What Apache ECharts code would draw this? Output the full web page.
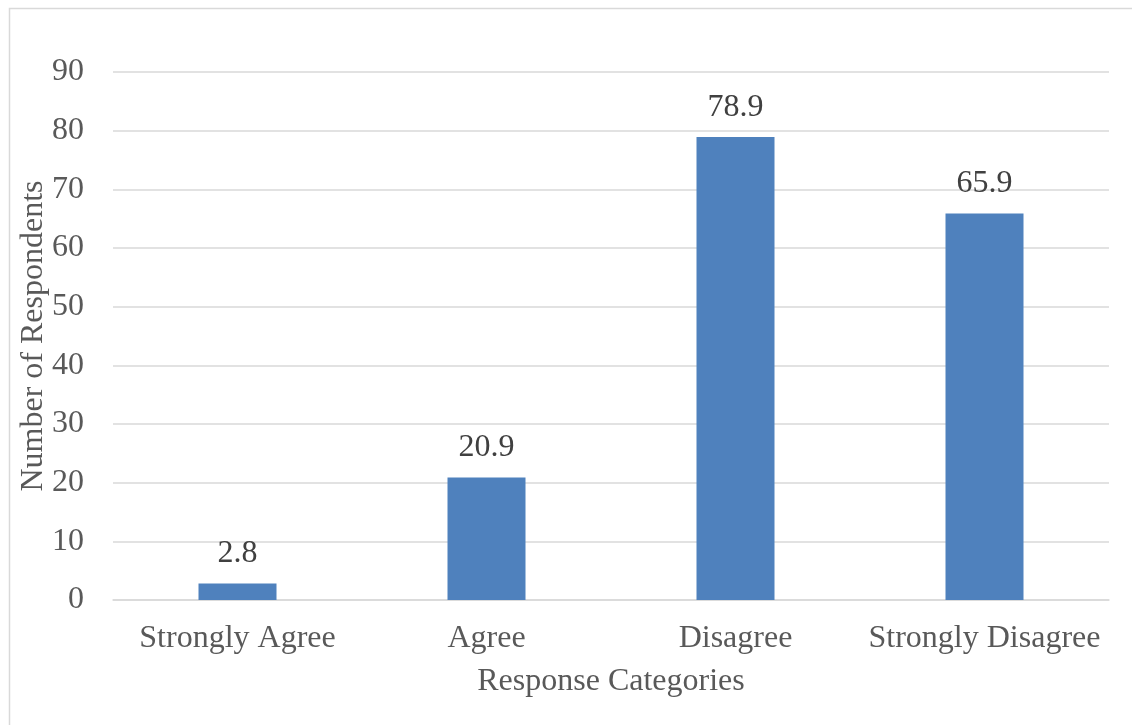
<!DOCTYPE html>
<html>
<head>
<meta charset="utf-8">
<script src="https://cdn.jsdelivr.net/npm/echarts@6/dist/echarts.min.js"></script>
<style>
  html, body { margin: 0; padding: 0; background: #fff; }
  #chart { width: 1132px; height: 725px; }
</style>
</head>
<body>
<div id="chart"></div>
<script>
const categories = ['Strongly Agree', 'Agree', 'Disagree', 'Strongly Disagree']
const respondents = [2.8, 20.9, 78.9, 65.9]

const font = '"Liberation Serif", "Times New Roman", serif'

const chart = echarts.init(document.getElementById('chart'))

chart.setOption({
  animation: false,
  backgroundColor: '#fff',
  graphic: [
    {
      type: 'rect',
      left: 7,
      top: 6,
      shape: { width: 1300, height: 900 },
      style: { fill: 'none', stroke: '#d9d9d9', lineWidth: 1.5 },
      silent: true,
    },
  ],
  grid: {
    left: 113,
    right: 23,
    top: 72,
    bottom: 125,
  },
  xAxis: {
    type: 'category',
    data: categories,
    name: 'Response Categories',
    nameLocation: 'middle',
    nameGap: 66,
    nameMoveOverlap: false,
    nameTextStyle: { fontFamily: font, fontSize: 32, color: '#595959' },
    axisLine: { lineStyle: { color: '#d9d9d9', width: 1.5 } },
    axisTick: { show: false },
    axisLabel: { interval: 0, fontFamily: font, fontSize: 32, color: '#595959', margin: 23 },
  },
  yAxis: {
    type: 'value',
    min: 0,
    max: 90,
    interval: 10,
    name: 'Number of Respondents',
    nameLocation: 'middle',
    nameGap: 63,
    nameMoveOverlap: false,
    nameTextStyle: { fontFamily: font, fontSize: 32, color: '#595959' },
    axisLine: { show: false },
    axisTick: { show: false },
    splitLine: { lineStyle: { color: '#d9d9d9', width: 1.5 } },
    axisLabel: { fontFamily: font, fontSize: 32, color: '#595959', margin: 29 },
  },
  series: [
    {
      type: 'bar',
      data: respondents,
      barWidth: 78,
      itemStyle: { color: '#4f81bd' },
      label: {
        show: true,
        position: 'top',
        distance: 14,
        fontFamily: font,
        fontSize: 32,
        color: '#404040',
      },
    },
  ],
})
</script>
</body>
</html>
